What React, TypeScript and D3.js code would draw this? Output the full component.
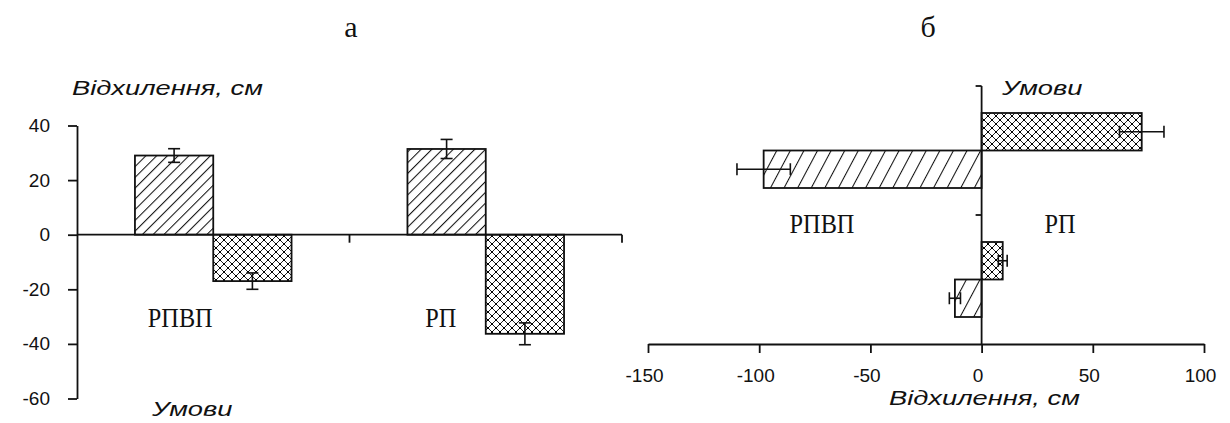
import React, { useEffect, useRef } from 'react';
import * as d3 from 'd3';

// categories and the two series (hatched / cross-hatched)
const categories = ['РПВП', 'РП'];
const seriesKeys = ['hatch', 'cross'];

// panel "а": vertical bars
const leftHatch = [29, 31.4];
const leftHatchErr = [2.5, 3.5];
const leftCross = [-17, -36.3];
const leftCrossErr = [3, 4];
const leftTicks = [-60, -40, -20, 0, 20, 40];

// panel "б": horizontal bars
const rightHatch = [-12, -98];
const rightHatchErr = [2.5, 12];
const rightCross = [9.5, 72];
const rightCrossErr = [2, 10];
const rightTicks = [-150, -100, -50, 0, 50, 100];

const titleX = 'Відхилення, см';
const titleCat = 'Умови';

const SANS = '"Liberation Sans", Arial, sans-serif';
const SERIF = '"Liberation Serif", "Times New Roman", serif';

const App = () => {
  const ref = useRef(null);

  useEffect(() => {
    const svg = d3.select(ref.current);
    svg.selectAll('*').remove();

    const defs = svg.append('defs');

    // diagonal "/" hatch, one per panel (the right one is steeper and sparser)
    const addHatch = (id, angle, step) => {
      const p = defs.append('pattern')
        .attr('id', id)
        .attr('patternUnits', 'userSpaceOnUse')
        .attr('width', step)
        .attr('height', step)
        .attr('patternTransform', `rotate(${angle})`);
      p.append('line')
        .attr('x1', 0.5).attr('y1', 0).attr('x2', 0.5).attr('y2', step)
        .attr('stroke', '#111').attr('stroke-width', 1.1);
    };
    addHatch('hatchL', 45, 7.6);
    addHatch('hatchR', 28, 12);

    // diamond cross-hatch with dots
    const cross = defs.append('pattern')
      .attr('id', 'cross')
      .attr('patternUnits', 'userSpaceOnUse')
      .attr('width', 8)
      .attr('height', 8);
    cross.append('path')
      .attr('d', 'M0,0L8,8M0,8L8,0')
      .attr('stroke', '#222').attr('stroke-width', 1);
    cross.append('rect').attr('x', 3).attr('y', 3).attr('width', 2).attr('height', 2).attr('fill', '#000');
    [[0, 0], [8, 0], [0, 8], [8, 8]].forEach(([cx, cy]) => {
      cross.append('rect').attr('x', cx - 1).attr('y', cy - 1).attr('width', 2).attr('height', 2).attr('fill', '#000');
    });

    const txt = (text, x, y, opts = {}) => {
      const { size = 20, family = SANS, italic = false, anchor = 'start', sx = 1 } = opts;
      svg.append('text')
        .attr('transform', `translate(${x},${y}) scale(${sx},1)`)
        .attr('text-anchor', anchor)
        .attr('font-family', family)
        .attr('font-size', size)
        .attr('font-style', italic ? 'italic' : 'normal')
        .attr('fill', '#111')
        .text(text);
    };

    // ---------- panel а ----------
    const yL = d3.scaleLinear().domain([-60, 40]).range([398.5, 125.5]);
    const xL = d3.scaleBand().domain(categories).range([77, 622]);
    const xLi = d3.scaleBand().domain(seriesKeys).range([0, xL.bandwidth()]).paddingOuter(0.74);

    const gL = svg.append('g');

    const leftBars = categories.flatMap((c, i) => [
      { c, key: 'hatch', v: leftHatch[i], e: leftHatchErr[i] },
      { c, key: 'cross', v: leftCross[i], e: leftCrossErr[i] }
    ]);

    gL.selectAll('rect.bar')
      .data(leftBars)
      .join('rect')
      .attr('class', 'bar')
      .attr('x', d => xL(d.c) + xLi(d.key))
      .attr('y', d => yL(Math.max(0, d.v)))
      .attr('width', xLi.bandwidth())
      .attr('height', d => Math.abs(yL(d.v) - yL(0)))
      .attr('fill', d => d.key === 'hatch' ? 'url(#hatchL)' : 'url(#cross)')
      .attr('stroke', '#111')
      .attr('stroke-width', 1.8);

    leftBars.forEach(d => {
      const cx = xL(d.c) + xLi(d.key) + xLi.bandwidth() / 2;
      const eg = gL.append('g').attr('stroke', '#111').attr('stroke-width', 1.6);
      eg.append('line').attr('x1', cx).attr('x2', cx).attr('y1', yL(d.v - d.e)).attr('y2', yL(d.v + d.e));
      [d.v - d.e, d.v + d.e].forEach(v => {
        eg.append('line').attr('x1', cx - 6).attr('x2', cx + 6).attr('y1', yL(v)).attr('y2', yL(v));
      });
    });

    // value axis
    const axL = gL.append('g')
      .attr('transform', 'translate(77,0)')
      .call(d3.axisLeft(yL).tickValues(leftTicks).tickSize(9).tickSizeOuter(0).tickPadding(18).tickFormat(d => String(d)));
    axL.selectAll('path, line').attr('stroke', '#111').attr('stroke-width', 1.8);
    axL.selectAll('text').attr('font-family', SANS).attr('font-size', 19).attr('fill', '#111');

    // category axis on zero line
    gL.append('line')
      .attr('x1', 77).attr('x2', 622)
      .attr('y1', yL(0)).attr('y2', yL(0))
      .attr('stroke', '#111').attr('stroke-width', 1.8);
    categories.forEach(c => {
      const bx = xL(c) + xL.bandwidth();
      gL.append('line')
        .attr('x1', bx).attr('x2', bx)
        .attr('y1', yL(0)).attr('y2', yL(0) + 8)
        .attr('stroke', '#111').attr('stroke-width', 1.8);
    });

    txt(categories[0], xL(categories[0]) + xL.bandwidth() / 2 - 33, 327, { family: SERIF, size: 27, anchor: 'middle', sx: 0.9 });
    txt(categories[1], xL(categories[1]) + xL.bandwidth() / 2 - 45, 327, { family: SERIF, size: 27, anchor: 'middle', sx: 0.9 });
    txt(titleX, 72, 95, { italic: true, sx: 1.3, size: 21 });
    txt(titleCat, 152, 416, { italic: true, sx: 1.3, size: 21 });
    txt('а', 351, 37, { family: SERIF, size: 30, anchor: 'middle' });

    // ---------- panel б ----------
    const xR = d3.scaleLinear().domain([-150, 100]).range([648, 1204]);
    const yR = d3.scaleBand().domain([...categories].reverse()).range([86, 344]);
    const yRi = d3.scaleBand().domain([...seriesKeys].reverse()).range([0, yR.bandwidth()]).paddingOuter(0.72);

    const gR = svg.append('g');

    const rightBars = categories.flatMap((c, i) => [
      { c, key: 'hatch', v: rightHatch[i], e: rightHatchErr[i] },
      { c, key: 'cross', v: rightCross[i], e: rightCrossErr[i] }
    ]);

    gR.selectAll('rect.bar')
      .data(rightBars)
      .join('rect')
      .attr('class', 'bar')
      .attr('x', d => xR(Math.min(0, d.v)))
      .attr('y', d => yR(d.c) + yRi(d.key))
      .attr('width', d => Math.abs(xR(d.v) - xR(0)))
      .attr('height', yRi.bandwidth())
      .attr('fill', d => d.key === 'hatch' ? 'url(#hatchR)' : 'url(#cross)')
      .attr('stroke', '#111')
      .attr('stroke-width', 1.8);

    rightBars.forEach(d => {
      const cy = yR(d.c) + yRi(d.key) + yRi.bandwidth() / 2;
      const eg = gR.append('g').attr('stroke', '#111').attr('stroke-width', 1.6);
      eg.append('line').attr('y1', cy).attr('y2', cy).attr('x1', xR(d.v - d.e)).attr('x2', xR(d.v + d.e));
      [d.v - d.e, d.v + d.e].forEach(v => {
        eg.append('line').attr('y1', cy - 6).attr('y2', cy + 6).attr('x1', xR(v)).attr('x2', xR(v));
      });
    });

    const axR = gR.append('g')
      .attr('transform', 'translate(0,344)')
      .call(d3.axisBottom(xR).tickValues(rightTicks).tickSize(9).tickSizeOuter(0).tickPadding(16).tickFormat(d => String(d)));
    axR.selectAll('path, line').attr('stroke', '#111').attr('stroke-width', 1.8);
    axR.selectAll('text').attr('font-family', SANS).attr('font-size', 19).attr('fill', '#111').attr('dx', -4);

    // category axis at x = 0
    gR.append('line')
      .attr('x1', xR(0)).attr('x2', xR(0))
      .attr('y1', 86).attr('y2', 344)
      .attr('stroke', '#111').attr('stroke-width', 1.8);
    yR.domain().forEach(c => {
      gR.append('line')
        .attr('x1', xR(0) - 6).attr('x2', xR(0))
        .attr('y1', yR(c)).attr('y2', yR(c))
        .attr('stroke', '#111').attr('stroke-width', 1.8);
    });

    txt(categories[0], 822, 233, { family: SERIF, size: 27, anchor: 'middle', sx: 0.9 });
    txt(categories[1], 1060, 233, { family: SERIF, size: 27, anchor: 'middle', sx: 0.9 });
    txt(titleCat, 1002, 95, { italic: true, sx: 1.3, size: 21 });
    txt(titleX, 889, 405, { italic: true, sx: 1.3, size: 21 });
    txt('б', 928, 37, { family: SERIF, size: 30, anchor: 'middle' });
  }, []);

  return (
    <svg
      ref={ref}
      width={1230}
      height={423}
      style={{ position: 'absolute', left: 0, top: 0, background: '#fff' }}
    />
  );
};

export default App;
